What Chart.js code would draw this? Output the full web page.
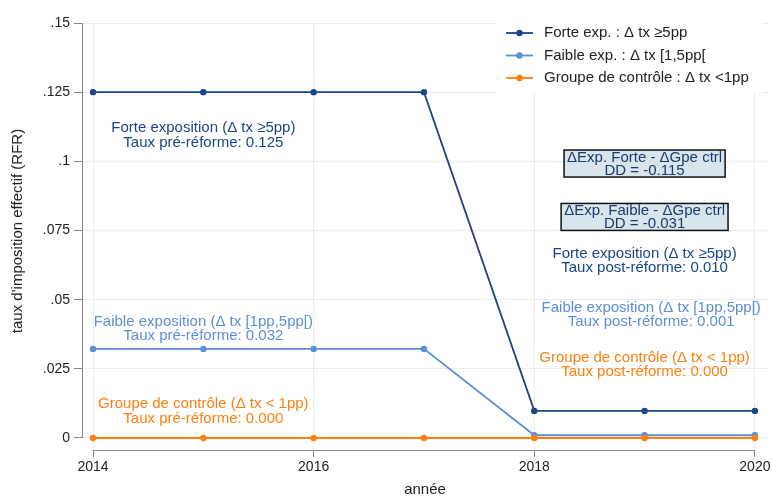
<!DOCTYPE html>
<html>
<head>
<meta charset="utf-8">
<script src="https://cdn.jsdelivr.net/npm/chart.js@4/dist/chart.umd.min.js"></script>
<style>
html,body{margin:0;padding:0;background:#fff;}
#wrap{width:772px;height:497px;position:relative;}
</style>
</head>
<body>
<div id="wrap"><canvas id="c" width="772" height="497"></canvas></div>
<script>
// ---- data ----
const years = [2014, 2015, 2016, 2017, 2018, 2019, 2020];
const forteExp = [0.125, 0.125, 0.125, 0.125, 0.0098, 0.0098, 0.0098];
const faibleExp = [0.0322, 0.0322, 0.0322, 0.0322, 0.001, 0.001, 0.001];
const groupeControle = [0, 0, 0, 0, 0, 0, 0];
const seriesNames = ['Forte exp. : \u0394 tx \u22655pp', 'Faible exp. : \u0394 tx [1,5pp[', 'Groupe de contr\u00f4le : \u0394 tx <1pp'];
const xTicks = [2014, 2016, 2018, 2020];
const yTicks = [0, 0.025, 0.05, 0.075, 0.1, 0.125, 0.15];
const yTickLabels = ['0', '.025', '.05', '.075', '.1', '.125', '.15'];
const xTitle = 'ann\u00e9e';
const yTitle = "taux d'imposition effectif (RFR)";

// text annotations (data coordinates)
const notes = [
  {x: 2015.0, y: 0.1093, c: 0, lines: ['Forte exposition (\u0394 tx \u22655pp)', 'Taux pr\u00e9-r\u00e9forme: 0.125']},
  {x: 2015.0, y: 0.0394, c: 1, lines: ['Faible exposition (\u0394 tx [1pp,5pp[)', 'Taux pr\u00e9-r\u00e9forme: 0.032']},
  {x: 2015.0, y: 0.0096, c: 2, lines: ['Groupe de contr\u00f4le (\u0394 tx < 1pp)', 'Taux pr\u00e9-r\u00e9forme: 0.000']},
  {x: 2019.0, y: 0.0641, c: 0, lines: ['Forte exposition (\u0394 tx \u22655pp)', 'Taux post-r\u00e9forme: 0.010']},
  {x: 2019.06, y: 0.0445, c: 1, lines: ['Faible exposition (\u0394 tx [1pp,5pp[)', 'Taux post-r\u00e9forme: 0.001']},
  {x: 2019.0, y: 0.0264, c: 2, lines: ['Groupe de contr\u00f4le (\u0394 tx < 1pp)', 'Taux post-r\u00e9forme: 0.000']}
];
const boxes = [
  {x: 2019.0, y: 0.0992, lines: ['\u0394Exp. Forte - \u0394Gpe ctrl', 'DD = -0.115']},
  {x: 2019.0, y: 0.0799, lines: ['\u0394Exp. Faible - \u0394Gpe ctrl', 'DD = -0.031']}
];

// ---- styles ----
const colors = ['#1a4587', '#5b8fd6', '#ff7f0e'];
const FONT = "'Liberation Sans', Arial, Helvetica, sans-serif";
const axisColor = '#888888';
const gridColor = '#ececec';

Chart.defaults.font.family = FONT;
Chart.defaults.font.size = 14;
Chart.defaults.color = '#222';

function mk(vals){ return years.map((yr,i)=>({x:yr, y:vals[i]})); }
const allSeries = [forteExp, faibleExp, groupeControle];
const datasets = allSeries.map((s,i)=>({
  label: seriesNames[i],
  data: mk(s),
  borderColor: colors[i],
  backgroundColor: colors[i],
  borderWidth: 1.8,
  pointRadius: 3.2,
  pointHoverRadius: 3.2,
  pointBorderWidth: 0,
  tension: 0,
  order: 3 - i
}));

const overlay = {
  id: 'overlay',
  afterDatasetsDraw(chart){
    const {ctx, chartArea: ca, scales: {x, y}} = chart;
    ctx.save();
    // axis lines (Stata style, offset)
    ctx.strokeStyle = axisColor; ctx.lineWidth = 1;
    ctx.beginPath();
    const ax = Math.round(ca.left) + 0.5;
    ctx.moveTo(ax, y.getPixelForValue(yTicks[yTicks.length-1]));
    ctx.lineTo(ax, y.getPixelForValue(0));
    const by = Math.round(ca.bottom) - 0.5;
    ctx.moveTo(x.getPixelForValue(xTicks[0]), by);
    ctx.lineTo(x.getPixelForValue(xTicks[xTicks.length-1]), by);
    ctx.stroke();

    ctx.font = '15px ' + FONT;
    ctx.textAlign = 'center';
    ctx.textBaseline = 'middle';
    const lh = 14.5;
    // notes
    notes.forEach(n=>{
      const px = x.getPixelForValue(n.x), py = y.getPixelForValue(n.y);
      ctx.fillStyle = colors[n.c];
      n.lines.forEach((t,k)=>ctx.fillText(t, px, py + (k - (n.lines.length-1)/2)*lh));
    });
    // boxes
    boxes.forEach(b=>{
      const px = x.getPixelForValue(b.x), py = y.getPixelForValue(b.y);
      const w = Math.max(...b.lines.map(t=>ctx.measureText(t).width)) + 6;
      const h = 27;
      ctx.fillStyle = '#d8e5ed';
      ctx.fillRect(px - w/2, py - h/2, w, h);
      ctx.strokeStyle = '#111'; ctx.lineWidth = 1.5;
      ctx.strokeRect(px - w/2, py - h/2, w, h);
      ctx.fillStyle = '#1a3a70';
      b.lines.forEach((t,k)=>ctx.fillText(t, px, py + 0.5 + (k - (b.lines.length-1)/2)*13));
    });

    // legend
    ctx.fillStyle = '#ffffff';
    ctx.fillRect(497, 13, 265, 80);
    ctx.textAlign = 'left';
    seriesNames.forEach((nm,i)=>{
      const ly = 33 + i*22.5;
      ctx.strokeStyle = colors[i]; ctx.lineWidth = 1.8;
      ctx.beginPath(); ctx.moveTo(506, ly); ctx.lineTo(533, ly); ctx.stroke();
      ctx.fillStyle = colors[i];
      ctx.beginPath(); ctx.arc(519.5, ly, 3.2, 0, Math.PI*2); ctx.fill();
      ctx.fillStyle = '#222';
      ctx.fillText(nm, 544, ly);
    });

    // axis titles
    ctx.fillStyle = '#222';
    ctx.textAlign = 'center';
    ctx.fillText(xTitle, 425, 490);
    ctx.save();
    ctx.translate(18, 231);
    ctx.rotate(-Math.PI/2);
    ctx.fillText(yTitle, 0, 0);
    ctx.restore();
    ctx.restore();
  }
};

new Chart(document.getElementById('c'), {
  type: 'line',
  data: { datasets },
  options: {
    responsive: false,
    animation: false,
    events: [],
    layout: { padding: { top: 23, right: 0, left: 0, bottom: 0 } },
    plugins: { legend: { display: false }, tooltip: { enabled: false } },
    scales: {
      x: {
        type: 'linear',
        min: 2013.9,
        max: 2020.126,
        afterBuildTicks: s => { s.ticks = xTicks.map(v=>({value:v})); },
        afterFit: s => { s.height = 46; s.paddingLeft = 0; s.paddingRight = 0; },
        ticks: { padding: 2, maxRotation: 0, autoSkip: false, color: '#222', font: {size: 14}, callback: v => String(v) },
        grid: { color: gridColor, tickColor: axisColor, tickLength: 6, lineWidth: 1 },
        border: { display: false }
      },
      y: {
        type: 'linear',
        min: -0.0047,
        max: 0.15,
        afterBuildTicks: s => { s.ticks = yTicks.map(v=>({value:v})); },
        afterFit: s => { s.width = 82; s.paddingTop = 0; s.paddingBottom = 0; },
        ticks: { padding: 4, color: '#222', font: {size: 14}, callback: (v) => { const i = yTicks.indexOf(v); return i >= 0 ? yTickLabels[i] : ''; } },
        grid: { color: gridColor, tickColor: axisColor, tickLength: 8, lineWidth: 1 },
        border: { display: false }
      }
    }
  },
  plugins: [overlay]
});
</script>
</body>
</html>
